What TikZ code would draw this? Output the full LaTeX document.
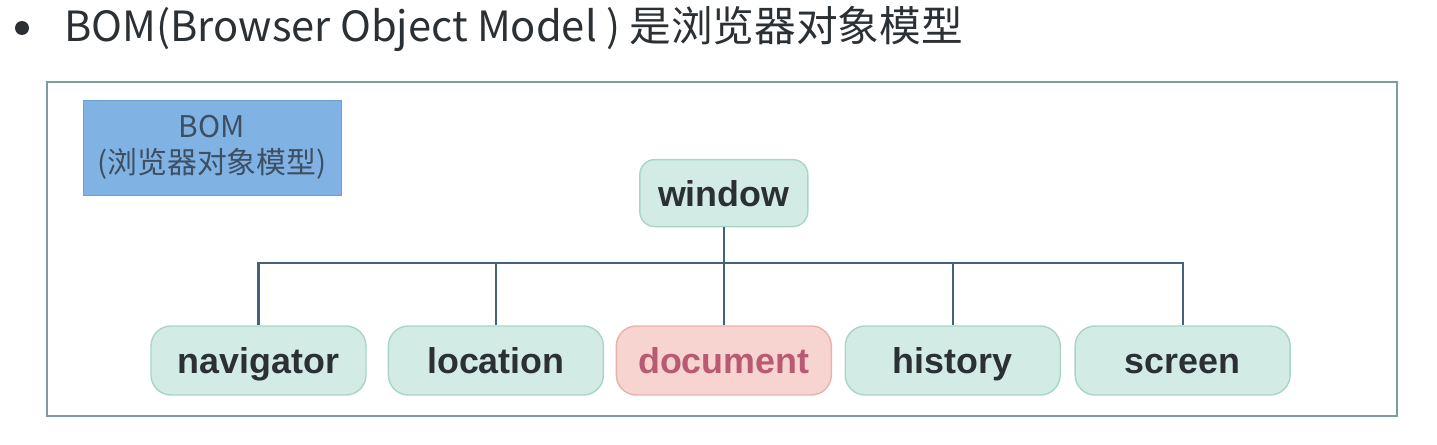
\documentclass[tikz,border=0pt]{standalone}
\usepackage{fontspec}
\setmainfont{Liberation Sans}
\newfontfamily\cjk{Noto Sans CJK SC}
\usetikzlibrary{positioning}
\definecolor{boxfill}{HTML}{D2ECE5}
\definecolor{boxline}{HTML}{A8D5C8}
\definecolor{docfill}{HTML}{F8D4D0}
\definecolor{docline}{HTML}{E5B3AD}
\definecolor{doctext}{HTML}{B85A72}
\definecolor{bomfill}{HTML}{80B2E4}
\definecolor{bomline}{HTML}{6F9FCF}
\definecolor{bomtext}{HTML}{3D4F63}
\definecolor{linkline}{HTML}{44627A}
\definecolor{frameline}{HTML}{7D9E9E}
\definecolor{inktext}{HTML}{2B3035}

\begin{document}
\begin{tikzpicture}[node distance=0.25cm,
  obj/.style={draw=boxline, fill=boxfill, line width=0.8pt, rounded corners=0.4cm, minimum width=4.3cm, minimum height=1.38cm, text height=17pt, text depth=2.2pt, text=inktext, font=\fontsize{20.4}{24}\selectfont\bfseries},
  link/.style={draw=linkline, line width=1.2pt}]

  \useasboundingbox (0,0) rectangle (28.74,8.88);

  % Title
  \fill[inktext] (0.44,8.32) circle (0.14);
  \node[anchor=west, inner sep=0pt, text=inktext, font=\cjk\fontsize{23.7}{28}\selectfont] (T) at (1.28,8.3) {BOM(Browser Object Model ) 是浏览器对象模型};

  % Frame
  \draw[frameline, line width=1.3pt] (0.94,0.56) rectangle (27.94,7.24);

  % BOM label
  \node[draw=bomline, fill=bomfill, minimum width=5.16cm, minimum height=1.9cm, align=center, text=bomtext, font=\cjk\fontsize{17}{20.5}\selectfont] (B) at (4.24,5.93) {BOM\\(浏览器对象模型)};

  % Children row
  \node[obj] (N) at (5.17,1.67) {navigator};
  \node[obj, right=0.42cm of N] (L) {location};
  \node[obj, right=0.23cm of L, draw=docline, fill=docfill, text=doctext] (D) {document};
  \node[obj, right=of D] (H) {history};
  \node[obj, right=0.27cm of H] (S) {screen};

  % Root
  \node[obj, above=1.96cm of D, minimum width=3.36cm, minimum height=1.34cm, rounded corners=0.3cm] (W) {window};

  % Tree lines
  \draw[link] (W.south) -- ++(0,-0.72) coordinate (J);
  \draw[link] (N.north) |- (J) -| (S.north);
  \draw[link] (L.north) -- (L.north |- J);
  \draw[link] (D.north) -- (D.north |- J);
  \draw[link] (H.north) -- (H.north |- J);

\end{tikzpicture}
\end{document}
